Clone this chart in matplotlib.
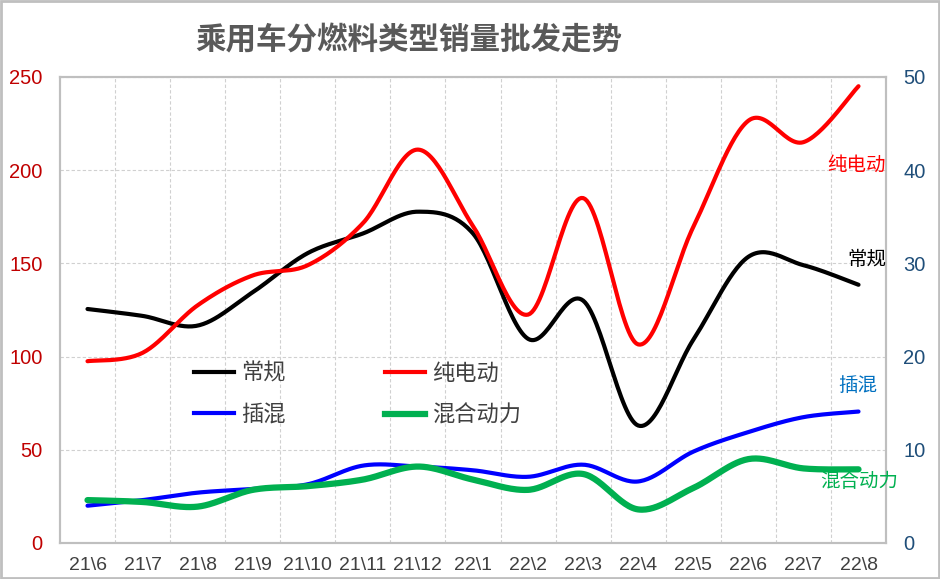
import matplotlib
matplotlib.use('Agg')
import matplotlib.pyplot as plt
import numpy as np
from matplotlib.lines import Line2D
from matplotlib.patches import Rectangle

plt.rcParams['font.family'] = ['Liberation Sans', 'Noto Sans CJK SC']

# -------------------------------------------------------------------------------------------------------------------- #
# Data
# -------------------------------------------------------------------------------------------------------------------- #

months = ['21\\6', '21\\7', '21\\8', '21\\9', '21\\10', '21\\11', '21\\12',
          '22\\1', '22\\2', '22\\3', '22\\4', '22\\5', '22\\6', '22\\7', '22\\8']

# left axis
conventional = [125.5, 121.8, 116.6, 134.5, 155.5, 166, 177.7, 166, 109.5, 130, 63, 109, 153.5, 149, 138.5]
# right axis
bev = [19.5, 20.4, 25.5, 28.7, 29.8, 34.3, 42.2, 34, 24.5, 37, 21.3, 33.9, 45.3, 43, 49]
phev = [4.0, 4.6, 5.4, 5.8, 6.3, 8.3, 8.2, 7.8, 7.1, 8.4, 6.6, 9.8, 11.9, 13.5, 14.1]
hev = [4.6, 4.4, 3.9, 5.7, 6.1, 6.8, 8.2, 6.8, 5.7, 7.4, 3.6, 5.9, 9.0, 8.0, 7.9]

names = ['常规', '纯电动', '插混', '混合动力']
colors = ['#000000', '#ff0000', '#0000ff', '#00b050']
label_colors = ['#000000', '#ff0000', '#0070c0', '#00b050']
widths = [3, 3, 3, 4.5]

# -------------------------------------------------------------------------------------------------------------------- #
# Functions
# -------------------------------------------------------------------------------------------------------------------- #

def smooth(y, n=30):
    # Bezier smoothing like the spreadsheet "smoothed line" (Catmull-Rom control points)
    y = np.asarray(y, dtype=float)
    x = np.arange(len(y), dtype=float)
    pts = np.column_stack([x, y])
    ext = np.vstack([pts[0], pts, pts[-1]])
    xs, ys = [], []
    t = np.linspace(0, 1, n)[:, None]
    for i in range(len(pts) - 1):
        p0, p3 = ext[i + 1], ext[i + 2]
        p1 = p0 + (ext[i + 2] - ext[i]) / 6
        p2 = p3 - (ext[i + 3] - ext[i + 1]) / 6
        seg = (1 - t) ** 3 * p0 + 3 * (1 - t) ** 2 * t * p1 + 3 * (1 - t) * t ** 2 * p2 + t ** 3 * p3
        xs.append(seg[:, 0])
        ys.append(seg[:, 1])
    return np.concatenate(xs), np.concatenate(ys)

# -------------------------------------------------------------------------------------------------------------------- #
# Plot
# -------------------------------------------------------------------------------------------------------------------- #

fig = plt.figure(figsize=(9.4, 5.79), dpi=100)
fig.patches.append(Rectangle((0.001, 0.001), 0.998, 0.997, transform=fig.transFigure,
                             fill=False, edgecolor='#bfbfbf', linewidth=2))
ax = fig.add_axes([0.0638, 0.0622, 0.8788, 0.805])
ax2 = ax.twinx()

grid_kw = dict(color='#d0d0d0', linestyle=(0, (3, 2)), linewidth=0.8)

ax.set_xlim(-0.5, len(months) - 0.5)
ax.set_ylim(0, 250)
ax.set_yticks(np.arange(0, 251, 50))
ax2.set_ylim(0, 50)
ax2.set_yticks(np.arange(0, 51, 10))
ax.set_xticks(np.arange(len(months)))
ax.set_xticklabels(months)
ax.set_xticks(np.arange(len(months) - 1) + 0.5, minor=True)
ax.grid(axis='y', **grid_kw)
ax.grid(axis='x', which='minor', **grid_kw)
ax.set_axisbelow(True)

ax.tick_params(axis='x', which='both', length=0, labelsize=14, labelcolor='#404040', pad=10)
ax.tick_params(axis='y', length=0, labelsize=14.5, labelcolor='#c00000', pad=12.5)
ax2.tick_params(axis='y', length=0, labelsize=14.5, labelcolor='#1f4e79', pad=12.5)
for a in (ax, ax2):
    for s in a.spines.values():
        s.set_color('#bfbfbf')
        s.set_linewidth(1.5)

series = [conventional, bev, phev, hev]
axes_for = [ax, ax2, ax2, ax2]
for vals, a, c, lw in zip(series, axes_for, colors, widths):
    xs, ys = smooth(vals)
    a.plot(xs, ys, color=c, linewidth=lw, solid_capstyle='round')

# end labels
ax2.text(14.5, 30.4, names[0], color=label_colors[0], fontsize=14, ha='right', va='center')
ax2.text(14.5, 40.5, names[1], color=label_colors[1], fontsize=14, ha='right', va='center')
ax2.text(14.35, 16.8, names[2], color=label_colors[2], fontsize=14, ha='right', va='center')
ax2.text(14.72, 6.6, names[3], color=label_colors[3], fontsize=14, ha='right', va='center')

# legend: row order 常规, 纯电动 / 插混, 混合动力 (matplotlib fills columns first)
order = [0, 2, 1, 3]
handles = [Line2D([], [], color=colors[i], linewidth=widths[i]) for i in order]
ax2.legend(handles, [names[i] for i in order], ncol=2, loc='upper left',
           bbox_to_anchor=(0.138, 0.428), frameon=False, fontsize=16, labelcolor='#404040',
           handlelength=1.8, handletextpad=0.3, columnspacing=4.5, labelspacing=0.92)

fig.text(0.435, 0.928, '乘用车分燃料类型销量批发走势', fontsize=22, color='#595959',
         ha='center', va='center', weight='bold')

plt.savefig('out.png', dpi=100)
